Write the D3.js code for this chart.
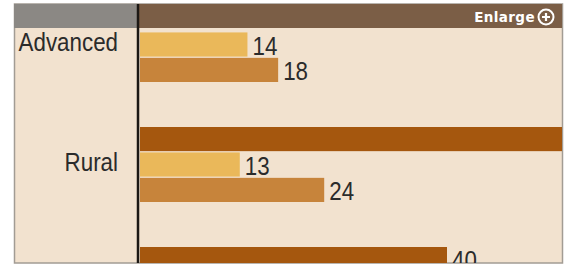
<!DOCTYPE html>
<html>
<head>
<meta charset="utf-8">
<script src="https://cdn.jsdelivr.net/npm/d3@7"></script>
<style>
  body { margin: 0; background: #fff; }
  .cat, .val { font-family: "Liberation Sans", Arial, sans-serif; font-size: 26px; fill: #2b2b2b; }
  .enlarge { font-family: "DejaVu Sans", sans-serif; font-size: 13.5px; font-weight: bold; fill: #fff; letter-spacing: 0.4px; }
</style>
</head>
<body>
<svg width="568" height="265"></svg>
<script>
// groups (third group's label is below the visible crop)
var categories = ["Advanced", "Rural", ""];
var seriesKeys = ["dark", "light", "mid"];
var darkValues = [null, 58, 40];
var lightValues = [14, 13, null];
var midValues = [18, 24, null];
var seriesColors = ["#a5570e", "#eab85a", "#c7843b"];

var svg = d3.select("svg"),
    width = +svg.attr("width"),
    height = +svg.attr("height");

var panelLeft = 14, panelTop = 4, panelRight = 562, panelBottom = 263,
    axisX = 138, headerH = 24, squeeze = 0.86;

var rows = categories.map(function(c, i) {
  return { cat: c, dark: darkValues[i], light: lightValues[i], mid: midValues[i] };
});

var x = d3.scaleLinear()
    .domain([0, 40])
    .range([140, 447]);

var y = d3.scaleBand()
    .domain(categories)
    .range([7, 7 + 120 * categories.length])
    .paddingInner(0);

var yInner = d3.scaleBand()
    .domain(seriesKeys)
    .range([0, 75])
    .paddingInner(0.05);

var color = d3.scaleOrdinal().domain(seriesKeys).range(seriesColors);

svg.append("defs").append("clipPath")
    .attr("id", "plot")
  .append("rect")
    .attr("x", axisX).attr("y", panelTop)
    .attr("width", panelRight - axisX).attr("height", panelBottom - panelTop);

// panel
svg.append("rect")
    .attr("x", panelLeft + 0.5).attr("y", panelTop)
    .attr("width", panelRight - panelLeft).attr("height", panelBottom - panelTop)
    .attr("fill", "#f2e2cf")
    .attr("stroke", "#a29c94")
    .attr("stroke-width", 1.5);

var plot = svg.append("g").attr("clip-path", "url(#plot)");

var group = plot.selectAll("g.group")
  .data(rows)
  .enter().append("g")
    .attr("class", "group")
    .attr("transform", function(d) { return "translate(0," + y(d.cat) + ")"; });

var bars = group.selectAll("g.bar")
  .data(function(d) {
    return seriesKeys.map(function(k) { return { key: k, value: d[k] }; })
      .filter(function(e) { return e.value != null; });
  })
  .enter().append("g")
    .attr("class", "bar");

bars.append("rect")
    .attr("x", x(0))
    .attr("y", function(d) { return yInner(d.key); })
    .attr("width", function(d) { return x(d.value) - x(0); })
    .attr("height", yInner.bandwidth())
    .attr("fill", function(d) { return color(d.key); });

// value labels, only for bars that end inside the panel
bars.filter(function(d) { return x(d.value) < panelRight - 30; })
  .append("text")
    .attr("class", "val")
    .attr("transform", function(d) {
      return "translate(" + (x(d.value) + 5) + "," + (yInner(d.key) + yInner.bandwidth() / 2 + 1) + ") scale(" + squeeze + ",1)";
    })
    .attr("dy", "0.35em")
    .text(function(d) { return d.value; });

// category labels
svg.selectAll("text.cat")
  .data(categories)
  .enter().append("text")
    .attr("class", "cat")
    .attr("transform", function(d) {
      return "translate(118," + (y(d) + yInner("light") + yInner.bandwidth() / 2 - 3) + ") scale(" + squeeze + ",1)";
    })
    .attr("dy", "0.35em")
    .attr("text-anchor", "end")
    .text(function(d) { return d; });

// header strip
svg.append("rect")
    .attr("x", panelLeft).attr("y", panelTop)
    .attr("width", axisX - panelLeft).attr("height", headerH)
    .attr("fill", "#8b8884");
svg.append("rect")
    .attr("x", axisX).attr("y", panelTop)
    .attr("width", panelRight - axisX).attr("height", headerH)
    .attr("fill", "#7b5e46");

svg.append("text")
    .attr("class", "enlarge")
    .attr("x", 535).attr("y", panelTop + headerH / 2 + 1)
    .attr("dy", "0.35em")
    .attr("text-anchor", "end")
    .text("Enlarge");

var icon = svg.append("g").attr("transform", "translate(546," + (panelTop + headerH / 2 + 1) + ")");
icon.append("circle").attr("r", 7.5).attr("fill", "none").attr("stroke", "#fff").attr("stroke-width", 2);
icon.append("path").attr("d", "M-4,0H4M0,-4V4").attr("stroke", "#fff").attr("stroke-width", 2.2);

// vertical axis line
svg.append("line")
    .attr("x1", axisX).attr("x2", axisX)
    .attr("y1", panelTop).attr("y2", panelBottom)
    .attr("stroke", "#1c1814")
    .attr("stroke-width", 2.5);
</script>
</body>
</html>
